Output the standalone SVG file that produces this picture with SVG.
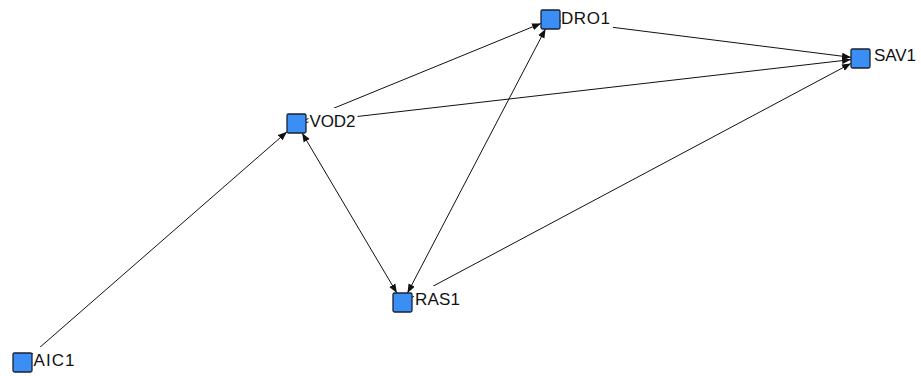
<svg xmlns="http://www.w3.org/2000/svg" width="921" height="376" viewBox="0 0 921 376">
<style>
.edge{stroke:#111;stroke-width:1;fill:none}
.node{fill:#3b8ef3;stroke:#1a2230;stroke-width:1.3}
.bg{fill:#fff}
.lbl{font-family:"Liberation Sans",Arial,sans-serif;font-size:17px;fill:#111}
</style>
<defs>
<marker id="arr" markerUnits="userSpaceOnUse" markerWidth="10" markerHeight="8" refX="9" refY="4" orient="auto-start-reverse">
<path d="M0,0.5 L9,4 L0,7.5 z" fill="#111"/>
</marker>
</defs>
<rect width="921" height="376" fill="#fff"/>
<g id="edges">
<line class="edge" x1="32" y1="354.2" x2="287" y2="131.8" marker-end="url(#arr)"/>
<line class="edge" x1="302.1" y1="133" x2="396.9" y2="293" marker-start="url(#arr)" marker-end="url(#arr)"/>
<line class="edge" x1="306" y1="119.6" x2="541" y2="23.4" marker-end="url(#arr)"/>
<line class="edge" x1="306" y1="122.4" x2="851" y2="59.6" marker-end="url(#arr)"/>
<line class="edge" x1="407.5" y1="293" x2="545.5" y2="29" marker-start="url(#arr)" marker-end="url(#arr)"/>
<line class="edge" x1="412" y1="297.4" x2="851" y2="63.4" marker-end="url(#arr)"/>
<line class="edge" x1="560" y1="20.7" x2="851" y2="57.3" marker-end="url(#arr)"/>
</g>
<g id="AIC1">
<rect class="bg" x="33" y="347" width="45" height="24"/>
<rect class="node" x="13" y="353" width="19" height="19" rx="1.5"/>
<text class="lbl" x="33.5" y="366" textLength="41" lengthAdjust="spacing">AIC1</text>
</g>
<g id="VOD2">
<rect class="bg" x="308.5" y="108" width="49" height="24"/>
<rect class="node" x="287" y="114" width="19" height="19" rx="1.5"/>
<text class="lbl" x="309.5" y="127" textLength="46" lengthAdjust="spacing">VOD2</text>
</g>
<g id="RAS1">
<rect class="bg" x="414" y="286" width="48" height="24"/>
<rect class="node" x="393" y="293" width="19" height="19" rx="1.5"/>
<text class="lbl" x="415" y="305" textLength="45" lengthAdjust="spacing">RAS1</text>
</g>
<g id="DRO1">
<rect class="bg" x="561" y="5" width="52" height="24"/>
<rect class="node" x="541" y="10" width="19" height="19" rx="1.5"/>
<text class="lbl" x="561" y="24" textLength="49" lengthAdjust="spacing">DRO1</text>
</g>
<g id="SAV1">
<rect class="bg" x="873" y="42" width="46" height="24"/>
<rect class="node" x="851" y="49" width="19" height="19" rx="1.5"/>
<text class="lbl" x="874" y="61" textLength="42" lengthAdjust="spacing">SAV1</text>
</g>
</svg>
